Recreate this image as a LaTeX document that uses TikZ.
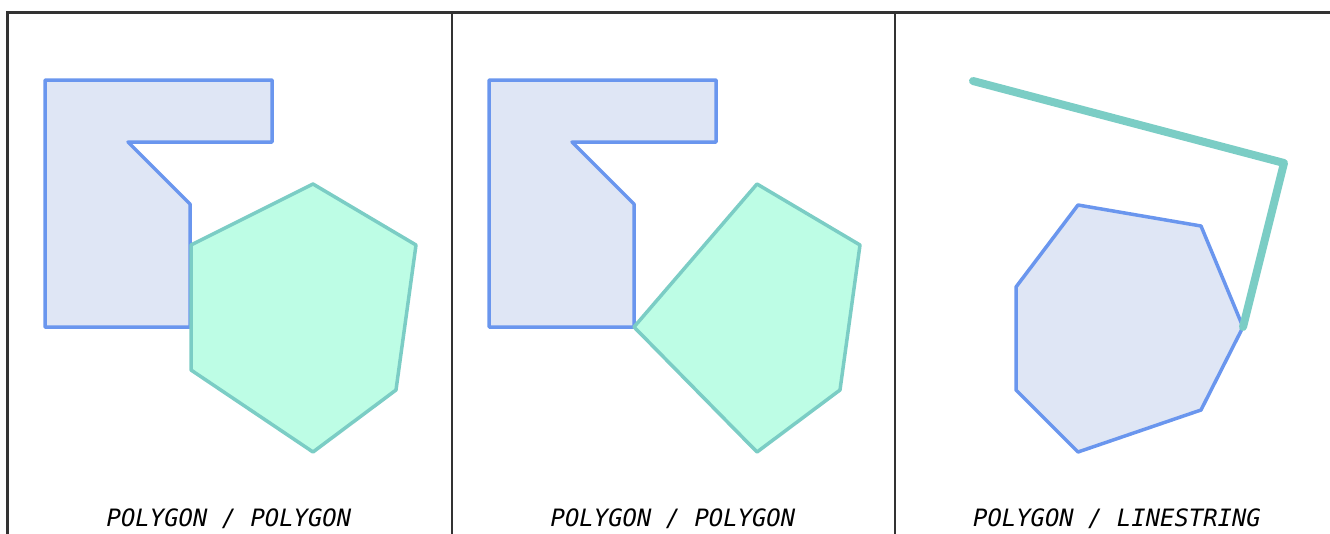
\documentclass[tikz,border=0pt]{standalone}
\usepackage{fontspec}
\setmonofont{DejaVu Sans Mono}
\definecolor{framegray}{HTML}{333333}
\definecolor{polyblue}{HTML}{6A96EE}
\definecolor{polyfill}{HTML}{DFE6F5}
\definecolor{tealline}{HTML}{7BCDC5}
\definecolor{tealfill}{HTML}{BDFDE5}
\begin{document}
\begin{tikzpicture}[
    x=0.02cm,y=-0.02cm,
    frame/.style={draw=framegray,line width=0.05cm},
    divider/.style={draw=framegray,line width=0.03cm},
    bluepoly/.style={draw=polyblue,fill=polyfill,line width=0.07cm,line join=round},
    tealpoly/.style={draw=tealline,fill=tealfill,line width=0.07cm,line join=round},
    tealstring/.style={draw=tealline,line width=0.16cm,line cap=round,line join=round},
    caption/.style={font=\ttfamily\itshape\fontsize{13.6pt}{16pt}\selectfont,anchor=base,inner sep=0pt}
]
\useasboundingbox (0,0) rectangle (1330,534);

% frame of the three panels
\draw[frame] (7.5,534) -- (7.5,12.5) -- (1330,12.5);
\draw[divider] (452,12.5) -- (452,534);
\draw[divider] (895,12.5) -- (895,534);

% panel 1
\draw[bluepoly] (45,80) -- (272,80) -- (272,142) -- (128,142) -- (190,204)
    -- (190,327) -- (45,327) -- cycle;
\draw[tealpoly] (313,184) -- (416,245) -- (396,390) -- (313,452) -- (191,370)
    -- (191,245) -- cycle;
\node[caption] (capA) at (229,526) {POLYGON / POLYGON};

% panel 2
\draw[bluepoly] (489,80) -- (716,80) -- (716,142) -- (572,142) -- (634,204)
    -- (634,327) -- (489,327) -- cycle;
\draw[tealpoly] (634,327) -- (757,184) -- (860,245) -- (840,390) -- (757,452)
    -- cycle;
\node[caption] (capB) at (673,526) {POLYGON / POLYGON};

% panel 3
\draw[bluepoly] (1078,205) -- (1201,226) -- (1243,327) -- (1201,410) -- (1078,452)
    -- (1016,390) -- (1016,287) -- cycle;
\draw[tealstring] (973,81) -- (1284,163) -- (1243,327);
\node[caption] (capC) at (1117,526) {POLYGON / LINESTRING};
\end{tikzpicture}
\end{document}
